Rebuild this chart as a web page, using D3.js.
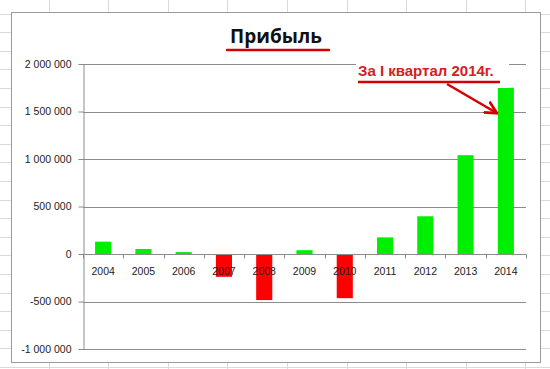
<!DOCTYPE html>
<html>
<head>
<meta charset="utf-8">
<script src="https://cdn.jsdelivr.net/npm/d3@7"></script>
<style>
  html, body { margin: 0; padding: 0; background: #fff; }
  svg { display: block; }
</style>
</head>
<body>
<div id="figure"></div>
<script>
var years = ["2004", "2005", "2006", "2007", "2008", "2009", "2010", "2011", "2012", "2013", "2014"];
var profit = [130000, 53000, 20000, -240000, -485000, 40000, -465000, 175000, 397000, 1040000, 1750000];
var yTicks = [-1000000, -500000, 0, 500000, 1000000, 1500000, 2000000];
var title = "Прибыль";
var note = "За I квартал 2014г.";

var W = 550, H = 369;

var ru = d3.formatLocale({ decimal: ",", thousands: " ", grouping: [3], currency: ["", ""], minus: "-" });
var fmt = ru.format(",");

var svg = d3.select("#figure")
    .append("svg")
    .attr("width", W)
    .attr("height", H);

// spreadsheet cells behind the chart
var cells = svg.append("g").attr("stroke", "#dadada").attr("stroke-width", 1);
d3.range(48.5, W, 59.6).forEach(function (cx) {
    cells.append("line").attr("x1", Math.round(cx) + 0.5).attr("x2", Math.round(cx) + 0.5)
        .attr("y1", 0).attr("y2", H);
});
d3.range(13.5, H, 18.6).forEach(function (cy) {
    cells.append("line").attr("x1", 0).attr("x2", W)
        .attr("y1", Math.round(cy) + 0.5).attr("y2", Math.round(cy) + 0.5);
});

// chart frame
svg.append("rect")
    .attr("x", 11.5).attr("y", 12.5)
    .attr("width", 529).attr("height", 350)
    .attr("fill", "#fff")
    .attr("stroke", "#9a9a9a");

var x = d3.scaleBand()
    .domain(years)
    .range([83, 526])
    .paddingInner(0.6)
    .paddingOuter(0.3);

var y = d3.scaleLinear()
    .domain([-1000000, 2000000])
    .range([349, 64]);

// gridlines
svg.append("g")
    .selectAll("line")
    .data(yTicks)
    .join("line")
    .attr("x1", 83).attr("x2", 526)
    .attr("y1", function (d) { return Math.round(y(d)) + 0.5; })
    .attr("y2", function (d) { return Math.round(y(d)) + 0.5; })
    .attr("stroke", "#8c8c8c");

// y axis
var yAxis = svg.append("g")
    .attr("transform", "translate(83.5,0)")
    .call(d3.axisLeft(y).tickValues(yTicks).tickFormat(fmt).tickSizeInner(5).tickSizeOuter(0).tickPadding(7));
yAxis.select(".domain").attr("stroke", "#8c8c8c");
yAxis.selectAll(".tick line").attr("stroke", "#8c8c8c");
yAxis.selectAll(".tick text")
    .attr("fill", "#222")
    .style("font", "10.5px 'Liberation Sans', Arial, sans-serif");

// bars
svg.append("g")
    .selectAll("rect")
    .data(profit)
    .join("rect")
    .attr("x", function (d, i) { return x(years[i]); })
    .attr("width", x.bandwidth())
    .attr("y", function (d) { return y(Math.max(0, d)); })
    .attr("height", function (d) { return Math.abs(y(d) - y(0)); })
    .attr("fill", function (d) { return d < 0 ? "#ff0000" : "#00ee00"; });

// zero axis with ticks between categories
var zero = Math.round(y(0)) + 0.5;
var bounds = years.map(function (d) { return x(d) - x.step() * x.paddingInner() / 2; });
bounds.push(526);
var xg = svg.append("g");
xg.append("line")
    .attr("x1", 83).attr("x2", 526)
    .attr("y1", zero).attr("y2", zero)
    .attr("stroke", "#8c8c8c");
xg.selectAll("line.tk")
    .data(bounds)
    .join("line")
    .attr("class", "tk")
    .attr("x1", function (d) { return Math.round(d) + 0.5; })
    .attr("x2", function (d) { return Math.round(d) + 0.5; })
    .attr("y1", zero).attr("y2", zero + 4)
    .attr("stroke", "#8c8c8c");
xg.selectAll("text")
    .data(years)
    .join("text")
    .attr("x", function (d) { return x(d) + x.bandwidth() / 2; })
    .attr("y", zero + 20)
    .attr("text-anchor", "middle")
    .attr("fill", "#222")
    .style("font", "10.5px 'Liberation Sans', Arial, sans-serif")
    .text(function (d) { return d; });

// title
svg.append("text")
    .attr("x", 276)
    .attr("y", 43)
    .attr("text-anchor", "middle")
    .attr("fill", "#111")
    .style("font", "bold 19px 'Open Sans', 'DejaVu Sans', sans-serif")
    .text(title);
svg.append("line")
    .attr("x1", 227).attr("x2", 329)
    .attr("y1", 50).attr("y2", 50)
    .attr("stroke", "#d40000")
    .attr("stroke-width", 2.5)
    .attr("stroke-linecap", "round");

// annotation
svg.append("defs").append("marker")
    .attr("id", "head")
    .attr("viewBox", "0 0 10 10")
    .attr("refX", 8).attr("refY", 5)
    .attr("markerWidth", 5.5).attr("markerHeight", 5.5)
    .attr("orient", "auto")
    .append("path")
    .attr("d", "M0,0.5 L9,5 L0,9.5")
    .attr("fill", "none")
    .attr("stroke", "#d40000")
    .attr("stroke-width", 2);

var nx = 358, ny = 76;
svg.append("rect")
    .attr("x", 356).attr("y", 56)
    .attr("width", 153).attr("height", 32)
    .attr("fill", "#fff");
svg.append("text")
    .attr("x", nx).attr("y", ny)
    .attr("fill", "#d42020")
    .style("font", "bold 15px 'Liberation Sans', Arial, sans-serif")
    .text(note);
svg.append("line")
    .attr("x1", nx).attr("x2", 500)
    .attr("y1", 82).attr("y2", 82)
    .attr("stroke", "#d40000")
    .attr("stroke-width", 2.5);
svg.append("line")
    .attr("x1", 447).attr("y1", 84)
    .attr("x2", x("2014") - 2).attr("y2", y(1500000) + 1)
    .attr("stroke", "#d40000")
    .attr("stroke-width", 2.5)
    .attr("marker-end", "url(#head)");
</script>
</body>
</html>
